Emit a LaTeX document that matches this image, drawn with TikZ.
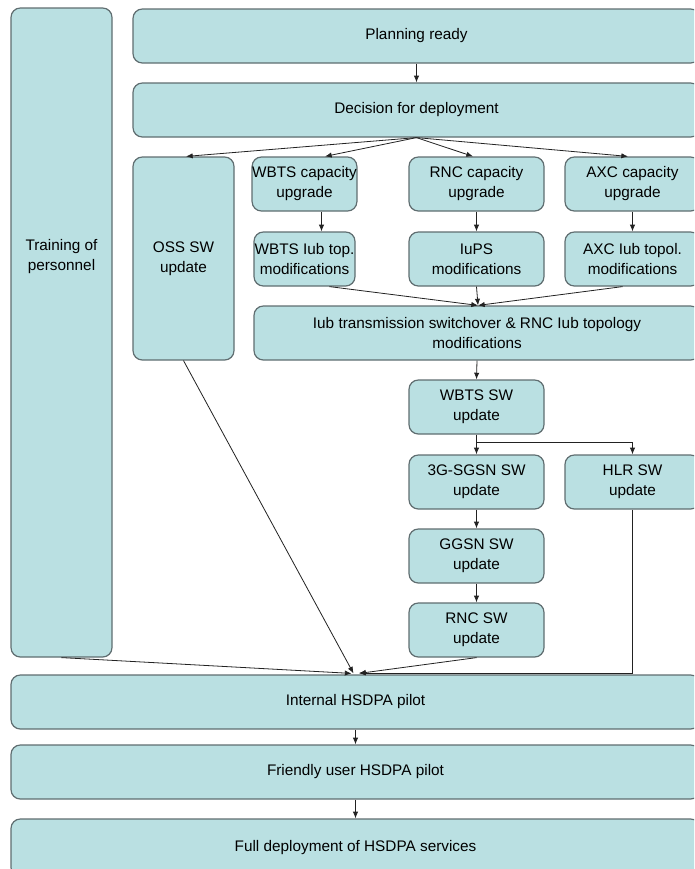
\documentclass[tikz,border=0pt]{standalone}
\usepackage{fontspec}
\setmainfont{Liberation Sans}
\usetikzlibrary{arrows.meta,calc}
\definecolor{boxfill}{HTML}{BAE0E2}
\definecolor{boxline}{HTML}{5F6D70}
\definecolor{conn}{HTML}{222222}
\begin{document}
\begin{tikzpicture}[x=0.75pt,y=-0.75pt,
  box/.style={draw=boxline, line width=0.9pt, fill=boxfill, rounded corners=7pt,
    inner sep=0pt, align=center, font=\fontsize{11.5}{15}\selectfont},
  sz/.style 2 args={minimum width=#1*0.75pt, minimum height=#2*0.75pt},
  arr/.style={draw=conn, line width=0.6pt, -{Latex[length=5pt,width=4pt]}},
  lbl/.style={inner sep=0pt, align=center, font=\fontsize{11.5}{15}\selectfont}]
\useasboundingbox (0,0) rectangle (694,869);
\clip (0,0) rectangle (694,869);

% boxes
\node[box, sz={101}{649}] (train) at (61.5,332.5) {};
\node[lbl] (traintxt) at (61.5,257) {Training of\\personnel};
\node[box, sz={567}{54}] (plan) at (416.5,36) {Planning ready};
\node[box, sz={567}{54}] (dec) at (416.5,110) {Decision for deployment};
\node[box, sz={101}{203}] (oss) at (183.5,258.5) {OSS SW\\update};
\node[box, sz={101}{54}] (wcap) at (304.5,184) {WBTS capacity\\upgrade};
\node[box, sz={135}{54}] (rcap) at (476.5,184) {RNC capacity\\upgrade};
\node[box, sz={135}{54}] (acap) at (632.5,184) {AXC capacity\\upgrade};
\node[box, sz={101}{54}] (wlub) at (304.5,259) {WBTS Iub top.\\modifications};
\node[box, sz={135}{54}] (iups) at (476.5,259) {IuPS\\modifications};
\node[box, sz={135}{54}] (alub) at (632.5,259) {AXC Iub topol.\\modifications};
\node[box, sz={446}{54}] (iub) at (477,333) {Iub transmission switchover \& RNC Iub topology\\modifications};
\node[box, sz={135}{54}] (wsw) at (476.5,407) {WBTS SW\\update};
\node[box, sz={135}{54}] (sgsn) at (476.5,482) {3G-SGSN SW\\update};
\node[box, sz={135}{54}] (hlr) at (632.5,482) {HLR SW\\update};
\node[box, sz={135}{54}] (ggsn) at (476.5,556) {GGSN SW\\update};
\node[box, sz={135}{54}] (rsw) at (476.5,630) {RNC SW\\update};
\node[box, sz={689}{54}] (int) at (355.5,702) {Internal HSDPA pilot};
\node[box, sz={689}{54}] (fri) at (355.5,772) {Friendly user HSDPA pilot};
\node[box, sz={689}{58}] (full) at (355.5,848) {Full deployment of HSDPA services};

% connectors
\draw[arr] (plan.south) -- (dec.north);
\draw[arr] (dec.south) -- ($(oss.north)+(2.5,0)$);
\draw[arr] (dec.south) -- ($(wcap.north)+(20.5,0)$);
\draw[arr] (dec.south) -- ($(rcap.north)+(-3.5,0)$);
\draw[arr] (dec.south) -- ($(acap.north)+(-4.5,0)$);
\draw[arr] ($(wcap.south)+(17,0)$) -- ($(wlub.north)+(17,0)$);
\draw[arr] (rcap.south) -- (iups.north);
\draw[arr] (acap.south) -- (alub.north);
\draw[arr] ($(wlub.south)+(25,0)$) -- ($(iub.north)+(1,0)$);
\draw[arr] (iups.south) -- ($(iub.north)+(1,0)$);
\draw[arr] ($(alub.south)+(-10,0)$) -- ($(iub.north)+(1,0)$);
\draw[arr] ($(iub.south)+(0,0)$) -- (wsw.north);
\draw[arr] (wsw.south) -- (sgsn.north);
\draw[arr] ($(wsw.south)!0.4!(sgsn.north)$) -| (hlr.north);
\draw[arr] (sgsn.south) -- (ggsn.north);
\draw[arr] (ggsn.south) -- (rsw.north);
\draw[arr] (train.south) -- ($(int.north)+(-4,-1)$);
\draw[arr] (oss.south) -- ($(int.north)+(-2,-1)$);
\draw[arr] (rsw.south) -- ($(int.north)+(3.5,-1)$);
\draw[arr] (hlr.south) |- ($(int.north)+(3.5,-1.5)$);
\draw[arr] (int.south) -- (fri.north);
\draw[arr] (fri.south) -- (full.north);
\end{tikzpicture}
\end{document}
